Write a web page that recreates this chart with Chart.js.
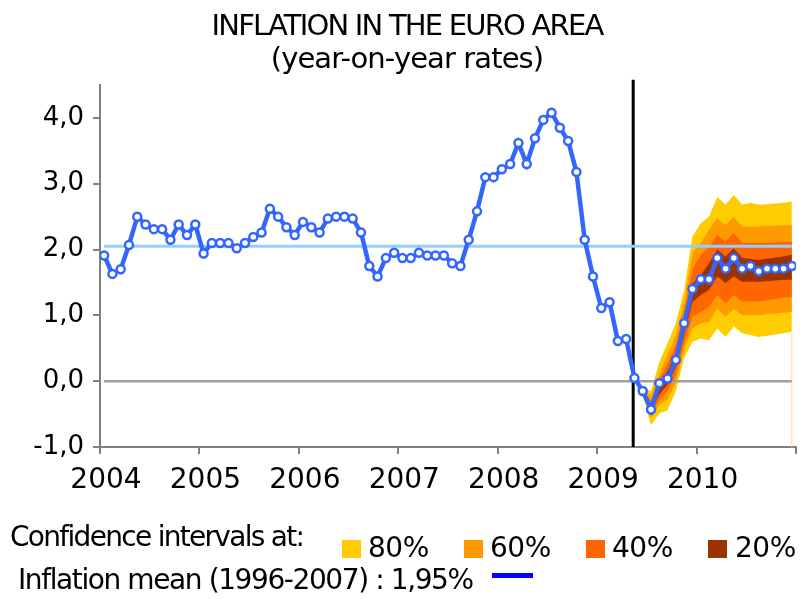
<!DOCTYPE html>
<html>
<head>
<meta charset="utf-8">
<script src="https://cdn.jsdelivr.net/npm/chart.js@4.4.1/dist/chart.umd.min.js"></script>
<style>
html, body { margin:0; padding:0; background:#fff; }
#wrap { position:relative; width:806px; height:599px; overflow:hidden; font-family:"DejaVu Sans", sans-serif; color:#000; }
#wrap canvas { position:absolute; left:0; top:0; }
.txt { position:absolute; white-space:nowrap; }
.t1 { left:0; width:814px; text-align:center; top:11px; font-size:29px; line-height:29px; letter-spacing:-1.8px; }
.t2 { left:0; width:814px; text-align:center; top:44px; font-size:29px; line-height:29px; letter-spacing:-0.9px; }
.lg { font-size:28px; line-height:28px; }
.sw { position:absolute; width:19px; height:18px; top:540px; }
</style>
</head>
<body>
<div id="wrap">
  <canvas id="chart" width="806" height="599"></canvas>
  <div class="txt t1">INFLATION IN THE EURO AREA</div>
  <div class="txt t2">(year-on-year rates)</div>
  <div class="txt lg" style="left:10px;top:523px;letter-spacing:-1.7px">Confidence intervals at:</div>
  <div id="bandLegend"></div>
  <div class="txt lg" style="left:18px;top:566px;letter-spacing:-1.4px">Inflation mean (1996-2007) : 1,95%</div>
  <div style="position:absolute;left:492px;top:573px;width:41px;height:5px;background:#0000ff"></div>
</div>
<script>
'use strict';

// ── Data ─────────────────────────────────────────────────────────────────────
var yearLabels = ['2004','2005','2006','2007','2008','2009','2010'];

// HICP, year-on-year %, monthly Jan 2004 .. Dec 2010
var inflation = [
  1.91, 1.63, 1.70, 2.07, 2.50, 2.38, 2.31, 2.31, 2.15, 2.38, 2.22, 2.38, // 2004
  1.94, 2.10, 2.10, 2.10, 2.02, 2.10, 2.19, 2.26, 2.62, 2.50, 2.34, 2.22, // 2005
  2.42, 2.34, 2.26, 2.47, 2.50, 2.50, 2.47, 2.26, 1.75, 1.59, 1.87, 1.95, // 2006
  1.87, 1.87, 1.95, 1.91, 1.91, 1.91, 1.79, 1.75, 2.15, 2.58, 3.10, 3.10, // 2007
  3.22, 3.30, 3.62, 3.30, 3.69, 3.97, 4.08, 3.85, 3.65, 3.18, 2.15, 1.59, // 2008
  1.11, 1.20, 0.61, 0.64, 0.05, -0.15, -0.43, -0.03, 0.04, 0.32, 0.88, 1.40, // 2009
  1.55, 1.55, 1.87, 1.71, 1.87, 1.71, 1.75, 1.67, 1.71, 1.71, 1.71, 1.75  // 2010
];

var meanLine = 2.05;       // drawn level of the 1996-2007 mean
var forecastCut = 64.35;   // months after Jan 2004 where the black line stands

// fan chart, Jun 2009 .. Dec 2010
var fanStart = 65;
var up80 = [-0.10,-0.15, 0.29, 0.58, 0.88, 1.38, 2.20, 2.40, 2.50, 2.80, 2.68, 2.83, 2.68, 2.71, 2.68, 2.69, 2.70, 2.71, 2.73];
var up60 = [-0.12,-0.22, 0.12, 0.40, 0.70, 1.20, 1.95, 2.10, 2.30, 2.48, 2.37, 2.50, 2.35, 2.35, 2.35, 2.36, 2.36, 2.37, 2.37];
var up40 = [-0.13,-0.30, 0.03, 0.27, 0.55, 1.05, 1.70, 1.92, 2.04, 2.22, 2.12, 2.25, 2.10, 2.10, 2.10, 2.10, 2.11, 2.12, 2.12];
var up20 = [-0.14,-0.36,-0.05, 0.15, 0.42, 0.90, 1.48, 1.61, 1.79, 2.00, 1.89, 2.02, 1.87, 1.86, 1.84, 1.86, 1.88, 1.90, 1.92];
var lo20 = [-0.16,-0.45,-0.20,-0.05, 0.22, 0.70, 1.20, 1.31, 1.39, 1.59, 1.49, 1.59, 1.51, 1.51, 1.51, 1.52, 1.53, 1.54, 1.54];
var lo40 = [-0.17,-0.50,-0.28,-0.15, 0.10, 0.58, 0.98, 1.05, 1.13, 1.31, 1.18, 1.31, 1.21, 1.21, 1.21, 1.23, 1.25, 1.27, 1.28];
var lo60 = [-0.18,-0.56,-0.36,-0.28,-0.02, 0.48, 0.80, 0.88, 0.90, 1.10, 0.98, 1.10, 1.00, 1.00, 1.00, 1.02, 1.03, 1.04, 1.05];
var lo80 = [-0.20,-0.67,-0.49,-0.44,-0.15, 0.35, 0.60, 0.65, 0.62, 0.80, 0.67, 0.83, 0.73, 0.70, 0.67, 0.69, 0.71, 0.73, 0.75];

var bandLabels = ['80%','60%','40%','20%'];
var bandColors = ['#ffcc00','#ff9900','#ff6600','#993300'];

// ── Helpers ──────────────────────────────────────────────────────────────────
function monthly(arr, start) {
  return arr.map(function(v, i) { return { x: start + i + 0.5, y: v }; });
}
function band(arr, color, fillTo) {
  return { data: monthly(arr, fanStart), borderWidth: 0, pointRadius: 0, backgroundColor: color, fill: fillTo };
}

// legend swatches
(function() {
  var box = document.getElementById('bandLegend');
  var sx = [342, 464, 586, 708], tx = [368, 490, 612, 735];
  bandLabels.forEach(function(l, i) {
    box.innerHTML += '<div class="sw" style="left:' + sx[i] + 'px;background:' + bandColors[i] + '"></div>' +
      '<div class="txt lg" style="left:' + tx[i] + 'px;top:534px;letter-spacing:-0.5px">' + l + '</div>';
  });
})();

var nMonths = inflation.length;
var lastFan = fanStart + lo80.length - 1;

new Chart(document.getElementById('chart'), {
  type: 'line',
  data: {
    datasets: [
      { data: monthly(inflation, 0), borderColor: '#3366ff', borderWidth: 4.5, pointRadius: 4, pointBorderWidth: 2.5,
        pointBackgroundColor: '#ffffff', pointBorderColor: '#3366ff', fill: false },
      { data: [{ x: 0.5, y: meanLine }, { x: nMonths - 0.5, y: meanLine }], borderColor: '#99ccff', borderWidth: 3, pointRadius: 0, fill: false },
      { data: [{ x: 0.5, y: 0 }, { x: nMonths - 0.5, y: 0 }], borderColor: '#a0a0a0', borderWidth: 2.5, pointRadius: 0, fill: false },
      { data: [{ x: forecastCut, y: -1 }, { x: forecastCut, y: 4.58 }], borderColor: '#000000', borderWidth: 3, pointRadius: 0, fill: false, clip: false },
      band(up20, bandColors[3], '+1'), band(lo20, bandColors[3], false),
      band(up40, bandColors[2], '+1'), band(lo40, bandColors[2], false),
      band(up60, bandColors[1], '+1'), band(lo60, bandColors[1], false),
      band(up80, bandColors[0], '+1'), band(lo80, bandColors[0], false),
      { data: [{ x: lastFan + 0.5, y: -1 }, { x: lastFan + 0.5, y: lo80[lo80.length - 1] }], borderColor: '#ffd699', borderWidth: 1, pointRadius: 0, fill: false }
    ]
  },
  options: {
    responsive: false, animation: false,
    layout: { padding: { left: 0, top: 85, right: 9, bottom: 92 } },
    plugins: { legend: { display: false }, tooltip: { enabled: false } },
    elements: { line: { tension: 0 } },
    scales: {
      x: {
        type: 'linear', min: 0, max: nMonths,
        afterFit: function(s) { s.height = 60; },
        border: { color: '#808080', width: 2 },
        grid: { drawOnChartArea: false, tickLength: 7, color: '#808080', lineWidth: 2 },
        ticks: {
          stepSize: 12, autoSkip: false, maxRotation: 0, labelOffset: 6, padding: 10,
          color: '#000', font: { family: 'DejaVu Sans', size: 28 },
          callback: function(v) { return yearLabels[v / 12] || ''; }
        }
      },
      y: {
        min: -1, max: 4.5,
        afterFit: function(s) { s.width = 100; },
        afterBuildTicks: function(s) { s.ticks = s.ticks.filter(function(t) { return Math.abs(t.value - Math.round(t.value)) < 1e-9; }); },
        border: { color: '#808080', width: 2 },
        grid: { drawOnChartArea: false, tickLength: 7, color: '#808080', lineWidth: 2 },
        ticks: {
          stepSize: 1, padding: 9, color: '#000', font: { family: 'DejaVu Sans', size: 26 },
          callback: function(v) { return v.toFixed(1).replace('.', ','); }
        }
      }
    }
  }
});
</script>
</body>
</html>
